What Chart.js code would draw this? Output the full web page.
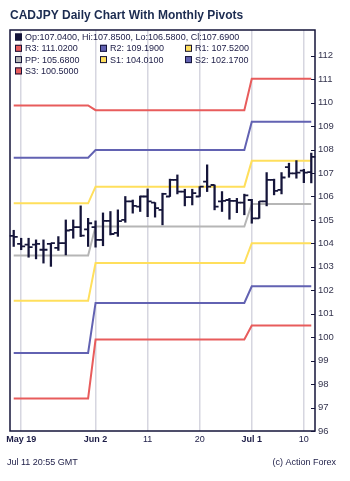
<!DOCTYPE html>
<html>
<head>
<meta charset="utf-8">
<title>CADJPY Daily</title>
<script src="https://cdn.jsdelivr.net/npm/chart.js@4/dist/chart.umd.min.js"></script>
<style>
    html, body { margin: 0; padding: 0; background: #fff; }
    #wrap { width: 350px; height: 481px; }
</style>
</head>
<body>
<div id="wrap"><canvas id="pivotChart"></canvas></div>
<script>
// daily bars, 16 May - 11 Jul
const days = [
    "May 16", "May 19", "May 20", "May 21", "May 22", "May 23", "May 26", "May 27", "May 28", "May 29", "May 30",
    "Jun 2", "Jun 3", "Jun 4", "Jun 5", "Jun 6", "Jun 9", "Jun 10", "Jun 11", "Jun 12", "Jun 13",
    "Jun 16", "Jun 17", "Jun 18", "Jun 19", "Jun 20", "Jun 23", "Jun 24", "Jun 25", "Jun 26", "Jun 27", "Jun 30",
    "Jul 1", "Jul 2", "Jul 3", "Jul 4", "Jul 7", "Jul 8", "Jul 9", "Jul 10", "Jul 11"
];
const opens = [
    104.32, 103.98, 103.95, 103.95, 103.73, 103.98, 103.81, 104.01, 104.58, 104.69, 104.60,
    104.69, 104.15, 104.96, 104.45, 105.00, 105.79, 105.57, 106.00, 105.74, 105.43,
    106.00, 106.71, 106.21, 105.97, 106.00, 106.63, 106.49, 105.79, 105.85, 105.81, 105.74,
    105.85, 105.07, 105.79, 106.71, 106.28, 107.25, 106.99, 107.10, 107.04
];
const highs = [
    104.56, 104.22, 104.22, 104.15, 104.15, 104.01, 104.29, 105.00, 105.00, 105.60, 105.07,
    104.96, 105.30, 105.36, 105.43, 106.00, 105.85, 106.02, 106.32, 105.74, 106.14,
    106.74, 106.92, 106.31, 106.31, 106.42, 107.35, 106.49, 106.21, 105.92, 105.92, 106.10,
    105.88, 105.79, 107.02, 106.74, 107.02, 107.42, 107.53, 107.16, 107.85
];
const lows = [
    103.87, 103.73, 103.41, 103.34, 103.16, 103.02, 103.70, 103.51, 104.22, 104.29, 103.87,
    103.84, 103.90, 104.36, 104.30, 104.90, 105.29, 105.36, 105.14, 105.12, 104.79,
    106.00, 106.11, 105.60, 105.64, 106.00, 106.21, 105.43, 105.36, 105.03, 105.31, 105.22,
    104.86, 105.07, 105.60, 106.07, 106.11, 106.82, 106.78, 106.59, 106.58
];
const closes = [
    104.28, 103.87, 103.84, 103.98, 103.73, 104.01, 104.01, 104.55, 104.69, 104.33, 104.86,
    104.15, 104.96, 104.40, 104.95, 105.79, 105.60, 106.00, 105.79, 105.50, 106.11,
    106.71, 106.21, 105.97, 106.14, 106.42, 106.42, 105.57, 105.81, 105.81, 105.74, 106.05,
    105.07, 105.79, 106.71, 106.24, 106.81, 106.99, 107.02, 107.02, 107.69
];

// monthly pivot levels for May, June, July
const pivotMonths = ["May", "Jun", "Jul"];
const r3 = [109.88, 109.68, 111.02];
const r2 = [107.65, 107.98, 109.19];
const r1 = [105.71, 106.42, 107.52];
const pp = [103.48, 104.72, 105.68];
const s1 = [101.55, 103.16, 104.01];
const s2 = [99.33, 101.46, 102.17];
const s3 = [97.39, 99.90, 100.50];

// x axis labels
const tickDays = ["May 19", "Jun 2", "Jun 11", "Jun 20", "Jul 1", "Jul 10"];
const tickLabels = ["May 19", "Jun 2", "11", "20", "Jul 1", "10"];
const tickBold = [true, true, false, false, true, false];

const FONT = "'Liberation Sans', Arial, sans-serif";
const INK = "#1c1c46";
const BAR = "#15153a";
const RED = "#e85c5c";
const BLUE = "#6262b2";
const YELLOW = "#ffdf5c";
const GREY = "#b6b6b6";

const monthIdx = days.map((d) => pivotMonths.indexOf(d.slice(0, 3)));
const perDay = (levels) => monthIdx.map((m) => levels[m]);
const last = (arr) => arr[arr.length - 1];

const pivots = [
    { name: "R3", levels: r3, color: RED },
    { name: "R2", levels: r2, color: BLUE },
    { name: "R1", levels: r1, color: YELLOW },
    { name: "PP", levels: pp, color: GREY },
    { name: "S1", levels: s1, color: YELLOW },
    { name: "S2", levels: s2, color: BLUE },
    { name: "S3", levels: s3, color: RED },
];

// open / close ticks on each high-low bar
const ohlcTicks = {
    id: "ohlcTicks",
    afterDatasetsDraw(chart) {
        const { ctx, scales: { x, y } } = chart;
        ctx.save();
        ctx.strokeStyle = BAR;
        ctx.lineWidth = 1.8;
        days.forEach((d, i) => {
            const px = x.getPixelForValue(i);
            const po = y.getPixelForValue(opens[i]);
            const pc = y.getPixelForValue(closes[i]);
            ctx.beginPath();
            ctx.moveTo(px - 4, po);
            ctx.lineTo(px, po);
            ctx.moveTo(px, pc);
            ctx.lineTo(px + 4, pc);
            ctx.stroke();
        });
        ctx.restore();
    },
};

// frame, inner y ticks, legend, title and footer
const decorations = {
    id: "decorations",
    afterDraw(chart) {
        const { ctx, chartArea: a, scales: { y } } = chart;
        ctx.save();

        ctx.strokeStyle = BAR;
        ctx.lineWidth = 1.5;
        ctx.strokeRect(a.left, a.top, a.right - a.left, a.bottom - a.top);

        ctx.lineWidth = 1.2;
        ctx.beginPath();
        for (let v = 96; v <= 112; v++) {
            const py = Math.round(y.getPixelForValue(v)) + 0.5;
            ctx.moveTo(a.right - 4, py);
            ctx.lineTo(a.right, py);
        }
        ctx.stroke();

        // legend
        ctx.font = "9px " + FONT;
        ctx.textBaseline = "middle";
        ctx.fillStyle = INK;
        const box = (bx, by, color) => {
            ctx.fillStyle = color;
            ctx.fillRect(bx, by - 3.5, 7, 7);
            ctx.strokeStyle = BAR;
            ctx.lineWidth = 1;
            ctx.strokeRect(bx + 0.5, by - 3, 6, 6);
            ctx.fillStyle = INK;
        };
        const f = (v) => v.toFixed(4);
        box(15, 37, BAR);
        ctx.fillText("Op:" + f(last(opens)) + ", Hi:" + f(last(highs)) +
            ", Lo:" + f(last(lows)) + ", Cl:" + f(last(closes)), 25, 37.5);
        pivots.forEach((p, i) => {
            const col = i === 6 ? 0 : i % 3;
            const row = i === 6 ? 3 : Math.floor(i / 3) + 1;
            const bx = 15 + col * 85;
            const by = 37 + row * 11.3;
            box(bx, by, p.color);
            ctx.fillText(p.name + ": " + f(last(p.levels)), bx + 10, by + 0.5);
        });

        // title
        ctx.fillStyle = "#1b2b50";
        ctx.font = "bold 12px " + FONT;
        ctx.textBaseline = "alphabetic";
        ctx.fillText("CADJPY Daily Chart With Monthly Pivots", 10, 19);

        // footer
        ctx.fillStyle = INK;
        ctx.font = "9px " + FONT;
        ctx.fillText("Jul 11 20:55 GMT", 7, 465);
        ctx.textAlign = "right";
        ctx.fillText("(c) Action Forex", 336, 465);
        ctx.restore();
    },
};

const pivotSets = pivots.map((p) => ({
    type: "line",
    label: p.name,
    data: perDay(p.levels),
    borderColor: p.color,
    borderWidth: 2,
    pointRadius: 0,
    tension: 0,
    fill: false,
    order: 2,
}));

const ctx = document.getElementById("pivotChart").getContext("2d");
new Chart(ctx, {
    type: "bar",
    data: {
        labels: days,
        datasets: [
            {
                label: "CADJPY",
                data: lows.map((l, i) => [l, highs[i]]),
                backgroundColor: BAR,
                borderWidth: 0,
                barThickness: 1.6,
                order: 1,
            },
            ...pivotSets,
        ],
    },
    options: {
        responsive: true,
        maintainAspectRatio: false,
        animation: false,
        layout: { padding: { left: 10, right: 0, top: 30, bottom: 30 } },
        plugins: {
            legend: { display: false },
            title: { display: false },
            tooltip: { enabled: false },
        },
        scales: {
            x: {
                offset: true,
                grid: {
                    offset: false,
                    drawTicks: false,
                    lineWidth: 1.5,
                    color: (c) => (tickDays.includes(days[c.index]) ? "#d6d6e0" : "rgba(0,0,0,0)"),
                },
                border: { display: false },
                ticks: {
                    autoSkip: false,
                    maxRotation: 0,
                    minRotation: 0,
                    padding: 3,
                    color: INK,
                    font: (c) => {
                        const k = tickDays.indexOf(days[c.index]);
                        return { family: FONT, size: 9, weight: k >= 0 && tickBold[k] ? "bold" : "normal" };
                    },
                    callback: (v, i) => {
                        const k = tickDays.indexOf(days[i]);
                        return k >= 0 ? tickLabels[k] : "";
                    },
                },
                afterFit: (s) => { s.height = 20; },
            },
            y: {
                position: "right",
                min: 96,
                max: 113.1,
                grid: { drawOnChartArea: false, drawTicks: false },
                border: { display: false },
                ticks: {
                    stepSize: 1,
                    padding: 3,
                    color: "#34344e",
                    font: { family: FONT, size: 9.5 },
                    callback: (v) => (v <= 112 && Number.isInteger(v) ? v : ""),
                },
                afterFit: (s) => { s.width = 35; },
            },
        },
    },
    plugins: [ohlcTicks, decorations],
});
</script>
</body>
</html>
